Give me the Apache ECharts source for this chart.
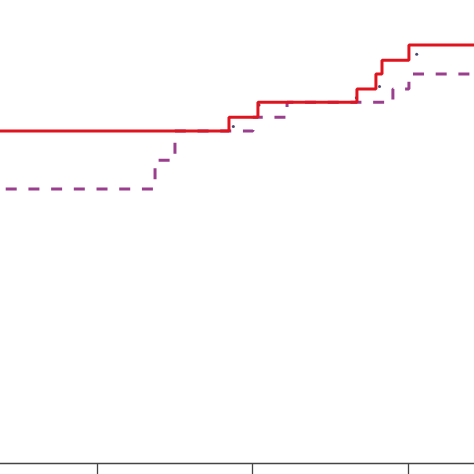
<!DOCTYPE html>
<html>
<head>
<meta charset="utf-8">
<script src="https://cdn.jsdelivr.net/npm/echarts@6/dist/echarts.min.js"></script>
<style>html,body{margin:0;padding:0;background:#fff;}#c{width:474px;height:474px;}</style>
</head>
<body>
<div id="c"></div>
<script>
// x tick values (labels not shown in the reference)
var xTicks = [10, 20, 30];
// red solid step series: [time, value]
var redSeries = [[0,0.717],[18.48,0.747],[20.34,0.779],[26.70,0.808],[27.92,0.840],[28.31,0.870],[30.04,0.903],[35,0.903]];
// purple dashed step series
var purpleSeries = [[0,0.592],[13.73,0.654],[15.01,0.717],[20.02,0.747],[22.21,0.779],[29.01,0.808],[30.04,0.840],[35,0.840]];
// small dark marks
var dots = [[18.76,0.727],[20.41,0.773],[26.66,0.789],[28.15,0.813],[30.54,0.883]];

var chart = echarts.init(document.getElementById('c'), null, {renderer:'canvas'});
chart.setOption({
  animation: false,
  backgroundColor: '#fff',
  grid: {left: 0, right: 0, top: 0, bottom: 11},
  xAxis: {
    type: 'value', min: 3.77, max: 34.22,
    axisLine: {show: true, lineStyle: {color: '#444', width: 1.3}},
    axisTick: {show: true, length: 15, customValues: xTicks, lineStyle: {color: '#444', width: 1.3}},
    axisLabel: {show: false},
    splitLine: {show: false}
  },
  yAxis: {type: 'value', min: 0, max: 1, show: false, splitLine: {show: false}},
  series: [
    {type: 'line', step: 'end', data: purpleSeries, symbol: 'none',
     lineStyle: {color: '#9a3f8e', width: 3, type: [11, 11.7], dashOffset: 3.7}},
    {type: 'line', step: 'end', data: redSeries, symbol: 'none',
     lineStyle: {color: '#e0141e', width: 3}},
    {type: 'scatter', data: dots, symbol: 'circle', symbolSize: 3,
     itemStyle: {color: '#1c1c4c'}}
  ]
});
</script>
</body>
</html>
